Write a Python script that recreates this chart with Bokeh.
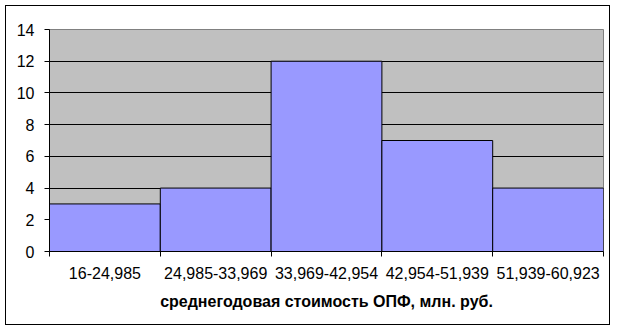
from bokeh.plotting import figure
from bokeh.models import Range1d, FixedTicker, ColumnDataSource
from bokeh.embed import file_html
from bokeh.resources import INLINE

categories = ["16-24,985", "24,985-33,969", "33,969-42,954", "42,954-51,939", "51,939-60,923"]
counts = [3, 4, 12, 7, 4]
y_ticks = [0, 2, 4, 6, 8, 10, 12, 14]

n = len(categories)
src = ColumnDataSource(dict(left=list(range(n)), right=[i + 1 for i in range(n)],
                            top=counts, bottom=[0] * n))

# figure sits inside a 1px black chart border starting at (5,5)
W, H = 605, 320
p = figure(width=W, height=H, output_backend="svg", toolbar_location=None,
           x_range=Range1d(0, n), y_range=Range1d(0, 14),
           min_border_left=43, min_border_right=8, min_border_top=23, min_border_bottom=75)
p.styles = {"border": "1px solid black", "position": "absolute", "left": "5px", "top": "5px"}
p.background_fill_color = "#C0C0C0"
p.border_fill_color = "white"
p.outline_line_color = "#808080"
p.outline_line_width = 1

p.quad(left="left", right="right", top="top", bottom="bottom", source=src,
       fill_color="#9999FF", line_color="black", line_width=1)

font = "Liberation Sans"
fs = "16px"
p.yaxis.ticker = FixedTicker(ticks=y_ticks)
p.yaxis.axis_line_color = "black"
p.yaxis.major_tick_out = 5
p.yaxis.major_tick_in = 0
p.yaxis.minor_tick_line_color = None
p.yaxis.major_label_text_font = font
p.yaxis.major_label_text_font_size = fs
p.yaxis.major_label_text_color = "black"
p.yaxis.major_label_standoff = 10

p.xaxis.ticker = FixedTicker(ticks=[i + 0.5 for i in range(n)], minor_ticks=list(range(n + 1)))
p.xaxis.major_label_overrides = {i + 0.5: c for i, c in enumerate(categories)}
p.xaxis.major_tick_out = 0
p.xaxis.major_tick_in = 0
p.xaxis.minor_tick_out = 5
p.xaxis.minor_tick_in = 0
p.xaxis.minor_tick_line_color = "black"
p.xaxis.axis_line_color = "black"
p.xaxis.major_label_text_font = font
p.xaxis.major_label_text_font_size = fs
p.xaxis.major_label_text_color = "black"
p.xaxis.major_label_standoff = 10
p.xaxis.axis_label = "среднегодовая стоимость ОПФ, млн. руб."
p.xaxis.axis_label_text_font = font
p.xaxis.axis_label_text_font_size = fs
p.xaxis.axis_label_text_font_style = "bold"
p.xaxis.axis_label_text_color = "black"
p.xaxis.axis_label_standoff = 11

p.xgrid.visible = False
p.ygrid.ticker = FixedTicker(ticks=y_ticks[1:-1])
p.ygrid.grid_line_color = "black"
p.ygrid.grid_line_width = 1

open("out.html", "w").write(file_html(p, INLINE))
